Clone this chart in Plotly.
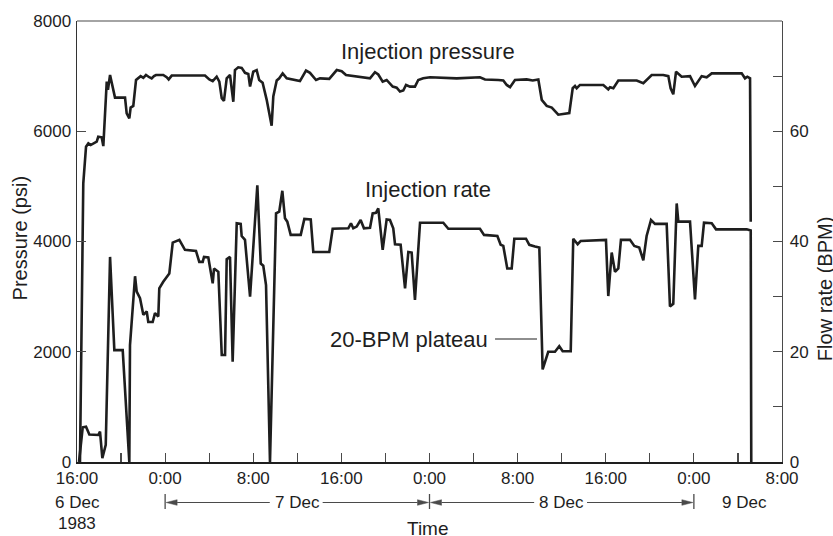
import plotly.graph_objects as go

# ---------------- data (hours since 16:00, 6 Dec 1983) ----------------
pressure_hours = [0.27, 0.57, 0.82, 1.03, 1.24, 1.48, 1.79, 1.93, 2.24, 2.39, 2.70, 2.81, 3.00, 3.45, 4.36,
                  4.51, 4.75, 4.87, 5.11, 5.36, 5.56, 5.78, 6.02, 6.26, 6.56, 6.78, 6.99, 7.17, 7.83, 8.14,
                  8.32, 8.60, 11.62, 12.01, 12.32, 12.68, 12.92, 13.14, 13.34, 13.59, 13.89, 14.19, 14.34,
                  14.64, 14.95, 15.25, 15.55, 15.71, 16.00, 16.31, 16.54, 16.85, 17.22, 17.67, 17.82, 18.13,
                  18.36, 18.67, 19.04, 20.24, 20.79, 21.15, 21.70, 22.06, 22.90, 23.58, 24.03, 24.42, 26.60,
                  27.05, 27.35, 27.75, 28.11, 28.66, 29.02, 29.32, 29.62, 29.87, 30.23, 30.68, 30.98, 31.43,
                  32.05, 34.47, 36.58, 37.04, 38.25, 38.70, 39.01, 39.31, 39.76, 40.82, 41.37, 41.88, 42.19,
                  42.64, 43.10, 43.69, 44.69, 45.00, 45.21, 45.36, 45.66, 47.78, 48.23, 48.39, 48.69, 49.14,
                  50.81, 51.41, 52.17, 53.22, 53.68, 53.89, 54.13, 54.38, 54.89, 55.65, 56.10, 56.71, 57.16,
                  57.62, 60.34, 60.64, 60.85, 61.10, 61.16]
pressure_psi = [0, 5055, 5720, 5780, 5750, 5770, 5810, 5900, 5890, 5730, 6900, 6750, 7020, 6610, 6610,
                6325, 6235, 6430, 6460, 6930, 6960, 7000, 6970, 7020, 6980, 6960, 7000, 7020, 7020, 6980,
                6940, 7010, 7010, 6940, 6910, 6990, 6900, 6600, 6550, 6960, 7020, 6535, 7110,
                7160, 7150, 7060, 7040, 6810, 7080, 7110, 6930, 6880, 6570, 6100, 6630, 6920,
                6960, 7050, 6960, 6910, 7100, 7060, 6930, 6960, 6950, 7110, 7090, 7020, 6960,
                7070, 7030, 6900, 6930, 6810, 6790, 6720, 6740, 6840, 6810, 6810, 6930, 6960,
                6980, 6960, 6980, 6940, 6930, 6920, 6840, 6800, 6930, 6940, 6920, 6940, 6570,
                6460, 6430, 6300, 6330, 6780, 6820, 6780, 6840, 6840, 6760, 6800, 6780, 6920,
                6920, 6870, 7020, 7020, 7000, 6780, 6670, 7080, 6990, 7000, 6820, 7000, 6980,
                7050, 7050, 6960, 6990, 6960, 4360]

rate_hours = [0.18, 0.52, 0.82, 1.12, 1.93, 2.09, 2.30, 2.61, 3.00, 3.39, 4.15, 4.75, 4.81, 5.27, 5.42,
              5.72, 6.02, 6.33, 6.47, 6.87, 7.08, 7.38, 7.47, 7.83, 8.38, 8.69, 9.29, 9.80, 10.80, 11.10,
              11.41, 11.53, 11.92, 12.07, 12.32, 12.44, 12.83, 13.14, 13.44, 13.59, 13.89, 14.13, 14.50,
              14.86, 14.95, 15.25, 15.71, 16.37, 16.68, 16.91, 17.16, 17.52, 18.07, 18.36, 18.64, 18.88,
              19.09, 19.40, 20.31, 20.64, 21.22, 21.45, 22.90, 23.21, 24.63, 24.87, 25.08, 25.39, 25.75,
              26.05, 26.60, 26.84, 27.14, 27.35, 27.75, 28.11, 28.41, 28.71, 28.87, 29.38, 29.78, 30.08,
              30.38, 30.68, 31.14, 33.25, 33.71, 36.58, 36.95, 38.16, 38.46, 38.70, 39.06, 39.46, 39.70,
              40.76, 41.06, 41.58, 41.97, 42.27, 42.78, 43.39, 43.78, 44.09, 44.82, 45.05, 45.45, 45.73,
              48.02, 48.23, 48.54, 48.84, 49.14, 49.38, 50.20, 50.59, 51.04, 51.41, 51.71, 52.11, 52.47,
              53.53, 53.83, 54.13, 54.44, 54.59, 55.65, 56.10, 56.40, 56.71, 56.92, 57.62, 58.01, 60.80,
              61.16, 61.21]
rate_bpm = [0, 6.3, 6.4, 5.0, 4.9, 5.5, 0.7, 3.1, 37.2, 20.3, 20.3, 0, 21.2, 33.7, 30.9,
            29.7, 26.7, 27.3, 25.4, 25.4, 27.0, 26.4, 31.5, 32.7, 34.2, 39.8, 40.3, 38.5, 38.3, 36.3,
            36.3, 37.2, 37.1, 35.1, 32.4, 35.1, 34.5, 19.4, 19.4, 36.8, 37.2, 18.2, 43.3,
            43.2, 41.0, 40.3, 30.0, 50.2, 36.0, 35.6, 32.1, 0, 45.1, 45.4, 49.2, 44.2,
            43.6, 41.2, 41.2, 44.1, 44.0, 38.1, 38.1, 42.3, 42.4, 43.3, 42.4, 42.7, 43.9,
            42.4, 42.5, 45.1, 45.2, 46.0, 38.5, 44.0, 43.9, 42.4, 39.5, 39.4, 31.5, 38.1,
            38.0, 29.4, 43.4, 43.4, 42.3, 42.3, 41.2, 41.0, 39.4, 39.2, 35.1, 35.1, 40.5,
            40.5, 39.4, 39.1, 38.9, 16.8, 20.0, 20.0, 21.0, 20.1, 20.1, 40.5, 39.5, 40.1,
            40.3, 30.1, 38.0, 34.5, 35.1, 40.3, 40.3, 39.2, 38.9, 36.6, 41.0, 43.9, 43.2,
            43.2, 28.2, 28.7, 46.9, 43.6, 43.6, 29.5, 39.2, 39.2, 43.4, 43.3, 42.2, 42.2,
            42.0, 0]

x_tick_hours = [0, 8, 16, 24, 32, 40, 48, 56, 64]
x_tick_labels = ["16:00", "0:00", "8:00", "16:00", "0:00", "8:00", "16:00", "0:00", "8:00"]
x_minor_hours = [4, 12, 20, 28, 36, 44, 52, 60]
p_ticks = [0, 2000, 4000, 6000, 8000]
r_ticks = [0, 10, 20, 30, 40, 50, 60, 70]
r_tick_labels = ["0", "", "20", "", "40", "", "60", ""]

day_bounds = [8, 32, 56]          # midnights
day_labels = ["7 Dec", "8 Dec"]
day_centers = [20, 44]            # noon
X_RANGE = [0, 64]

# ---------------- geometry helpers ----------------
W, H = 705, 441
ML, MR, MT, MB = 77, 51, 21, 74
FONT = "Liberation Sans, Arial, Helvetica, sans-serif"
INK = "#1e1e1e"
GREY = "#4a4a4a"

def hx(h):   # hours -> paper x
    return (h - X_RANGE[0]) / (X_RANGE[1] - X_RANGE[0])

def py(px_below):  # pixel offset below plot bottom -> paper y
    return -px_below / H

fig = go.Figure()
fig.add_trace(go.Scatter(x=pressure_hours, y=pressure_psi, mode="lines",
                         line=dict(color=INK, width=2.6), yaxis="y", showlegend=False,
                         hoverinfo="skip"))
fig.add_trace(go.Scatter(x=rate_hours, y=rate_bpm, mode="lines",
                         line=dict(color=INK, width=2.6), yaxis="y2", showlegend=False,
                         hoverinfo="skip"))

annotations = []
shapes = []

# in-plot labels
annotations += [
    dict(x=31.9, y=7443, xref="x", yref="y", text="Injection pressure", showarrow=False,
         font=dict(size=22, color=INK, family=FONT), xanchor="center", yanchor="middle"),
    dict(x=31.9, y=4952, xref="x", yref="y", text="Injection rate", showarrow=False,
         font=dict(size=22, color=INK, family=FONT), xanchor="center", yanchor="middle"),
    dict(x=30.1, y=2231, xref="x", yref="y", text="20-BPM plateau", showarrow=False,
         font=dict(size=22, color=INK, family=FONT), xanchor="center", yanchor="middle"),
]
shapes.append(dict(type="line", xref="x", yref="y", x0=37.95, x1=41.76, y0=2231, y1=2231,
                   line=dict(color=INK, width=1.2)))

# axis titles
annotations += [
    dict(x=-57 / W, y=0.507, xref="paper", yref="paper", text="Pressure (psi)", textangle=-90,
         showarrow=False, font=dict(size=20, color=INK, family=FONT), xanchor="center", yanchor="middle"),
    dict(x=1 + 43 / W, y=0.392, xref="paper", yref="paper", text="Flow rate (BPM)", textangle=-90,
         showarrow=False, font=dict(size=20, color=INK, family=FONT), xanchor="center", yanchor="middle"),
    dict(x=hx(31.9), y=py(66), xref="paper", yref="paper", text="Time", showarrow=False,
         font=dict(size=19, color=INK, family=FONT), xanchor="center", yanchor="middle"),
]

# date labels
annotations += [
    dict(x=hx(0), y=py(40.5), xref="paper", yref="paper", text="6 Dec", showarrow=False,
         font=dict(size=17, color=INK, family=FONT), xanchor="center", yanchor="middle"),
    dict(x=hx(0), y=py(61), xref="paper", yref="paper", text="1983", showarrow=False,
         font=dict(size=17, color=INK, family=FONT), xanchor="center", yanchor="middle"),
    dict(x=hx(60.6), y=py(40.5), xref="paper", yref="paper", text="9 Dec", showarrow=False,
         font=dict(size=17, color=INK, family=FONT), xanchor="center", yanchor="middle"),
]
for lab, c in zip(day_labels, day_centers):
    annotations.append(dict(x=hx(c), y=py(40.5), xref="paper", yref="paper", text=lab, showarrow=False,
                            font=dict(size=17, color=INK, family=FONT), xanchor="center", yanchor="middle"))

# day-span arrows
arrow_y = py(40.5)
bar_top, bar_bot = py(32), py(47)
gap_h = 2.5
for b in day_bounds:
    shapes.append(dict(type="line", xref="paper", yref="paper", x0=hx(b), x1=hx(b),
                       y0=bar_top, y1=bar_bot, line=dict(color=GREY, width=1.3)))

def arrow(tail_h, tip_h):
    xt, xh = hx(tail_h), hx(tip_h)
    d = 1 if xh > xt else -1
    tip = xh - d * 1.0 / W
    base = tip - d * 11.0 / W
    shapes.append(dict(type="line", xref="paper", yref="paper", x0=xt, x1=base,
                       y0=arrow_y, y1=arrow_y, line=dict(color=GREY, width=1.1)))
    hh = 2.8 / H
    shapes.append(dict(type="path", xref="paper", yref="paper",
                       path=f"M{tip},{arrow_y} L{base},{arrow_y + hh} L{base},{arrow_y - hh} Z",
                       fillcolor=GREY, line=dict(color=GREY, width=0.5)))

for c, lo, hi in zip(day_centers, day_bounds[:-1], day_bounds[1:]):
    arrow(c - gap_h, lo)
    arrow(c + gap_h - 0.2, hi)

# top border
shapes.append(dict(type="line", xref="paper", yref="paper", x0=0, x1=1, y0=1, y1=1,
                   line=dict(color=GREY, width=1.2)))

tickfont = dict(size=17, color=INK, family=FONT)
fig.update_layout(
    width=833, height=536,
    margin=dict(l=ML, r=MR, t=MT, b=MB, pad=0, autoexpand=False),
    paper_bgcolor="white", plot_bgcolor="white",
    showlegend=False,
    hovermode=False,
    font=dict(family=FONT, color=INK),
    xaxis=dict(range=X_RANGE, tickmode="array", tickvals=x_tick_hours, ticktext=x_tick_labels,
               ticks="inside", ticklen=9, tickwidth=1.2, tickcolor=GREY,
               minor=dict(tickmode="array", tickvals=x_minor_hours, ticks="inside", ticklen=9,
                          tickwidth=1.2, tickcolor=GREY, showgrid=False),
               showline=True, linecolor=INK, linewidth=1.6, showgrid=False, zeroline=False,
               tickfont=tickfont, fixedrange=True, automargin=False),
    yaxis=dict(range=[0, 8000], tickmode="array", tickvals=p_ticks, ticks="inside", ticklen=9,
               tickwidth=1.2, tickcolor=GREY, showline=True, linecolor="#333333", linewidth=1.5,
               showgrid=False, zeroline=False, tickfont=tickfont, ticklabelstandoff=1, automargin=False,
               fixedrange=True),
    yaxis2=dict(range=[0, 80], overlaying="y", side="right", tickmode="array", tickvals=r_ticks,
                ticktext=r_tick_labels, ticks="inside", ticklen=9, tickwidth=1.2, tickcolor=GREY,
                showline=True, linecolor=GREY, linewidth=1.3, showgrid=False, zeroline=False,
                tickfont=tickfont, ticklabelstandoff=3, automargin=False, fixedrange=True),
    annotations=annotations,
    shapes=shapes,
)

fig.write_html("out.html", config={"displayModeBar": False, "staticPlot": True},
               post_script="document.body.style.margin='0px';document.body.style.overflow='hidden';")
